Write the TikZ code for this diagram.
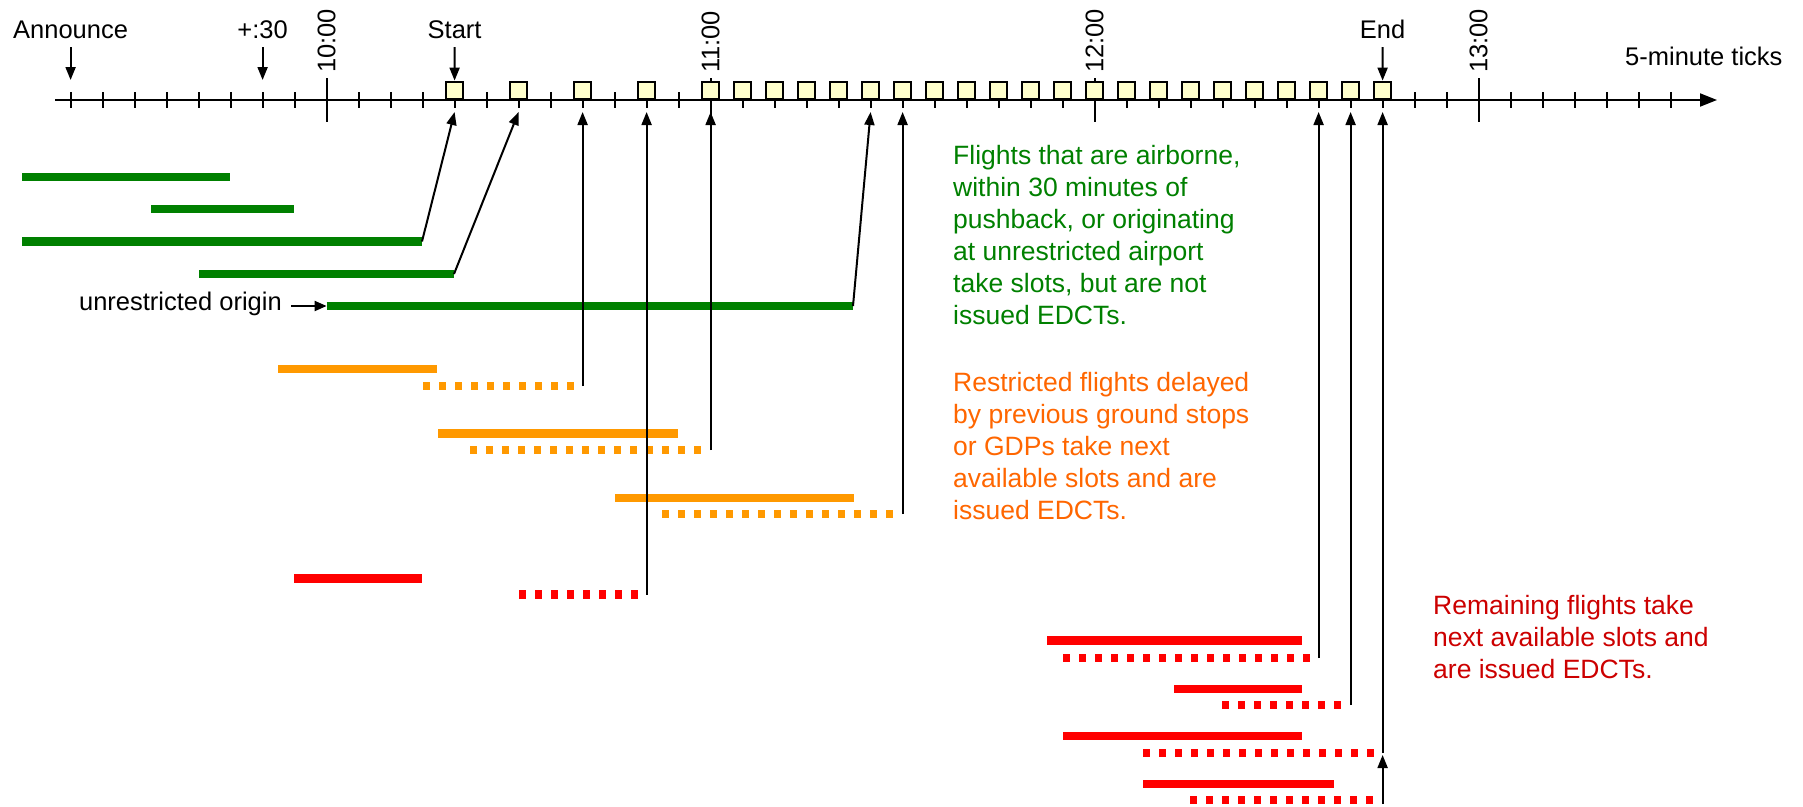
\documentclass[tikz,border=0pt]{standalone}
\usepackage{fontspec}
\setmainfont{Liberation Sans}
\usetikzlibrary{arrows.meta}
\definecolor{fgreen}{RGB}{0,128,0}
\definecolor{forange}{RGB}{255,153,0}
\definecolor{torange}{RGB}{255,102,0}
\definecolor{fred}{RGB}{255,0,0}
\definecolor{tred}{RGB}{204,0,0}
\definecolor{slotfill}{RGB}{255,255,204}
\tikzset{
  solidbar/.style={line width=8.5pt},
  dotbar/.style={line width=8.5pt, dash pattern=on 7pt off 9pt},
  conn/.style={line width=2pt, -{Triangle[length=13pt,width=10pt]}},
  tickline/.style={line width=2pt},
  axisline/.style={line width=2pt, -{Triangle[length=17pt,width=13pt]}},
  slotbox/.style={draw, line width=2.4pt, fill=slotfill, minimum size=17pt, inner sep=0pt, anchor=south},
  lab/.style={font=\fontsize{25.5}{30}\selectfont, inner sep=0pt},
  para/.style={font=\fontsize{26.5}{32}\selectfont, inner sep=0pt, align=left, anchor=north west},
}
\begin{document}
\begin{tikzpicture}[x=1pt,y=-1pt]
\useasboundingbox (0,0) rectangle (1803,806);
% axis
\coordinate (axs) at (55,100);
\coordinate (axe) at (1717,100);
\draw[axisline] (axs) -- (axe);
\foreach \m in {-40,-35,...,210} {
  \pgfmathsetmacro\xx{326.6+6.4*\m}
  \draw[tickline] (\xx,92) -- (\xx,108);
}
\foreach \m/\lab in {0/10:00,60/11:00,120/12:00,180/13:00} {
  \pgfmathsetmacro\xx{326.6+6.4*\m}
  \draw[tickline] (\xx,78) -- (\xx,122);
  \node[lab, rotate=90, anchor=west] (h\m) at (\xx,73) {\lab};
}
% slots
\foreach \m in {20,30,40,50,60,65,...,165} {
  \pgfmathsetmacro\xx{326.6+6.4*\m}
  \node[slotbox] (s\m) at (\xx,100) {};
  \coordinate (a\m) at (\xx,112);
}
\coordinate (a85) at ({326.6+6.4*85},112);
% top labels
\node[lab, anchor=base] (ann) at (70.6,38) {Announce};
\node[lab, anchor=base] (p30) at (262.6,38) {+:30};
\node[lab, anchor=base] (st) at (454.6,38) {Start};
\node[lab, anchor=base] (en) at (1382.6,38) {End};
\node[lab, anchor=base west] (tk) at (1625,65) {5-minute ticks};
\coordinate (annt) at (70.6,80);
\coordinate (p30t) at (262.6,80);
\draw[conn] (ann.south |- 0,47) -- (annt);
\draw[conn] (p30.south |- 0,47) -- (p30t);
\draw[conn] (st.south |- 0,47) -- (s20.north);
\draw[conn] (en.south |- 0,47) -- (s165.north);
% green flights
\begin{scope}[fgreen]
\draw[solidbar] (22,177) coordinate (g1a) -- (230,177) coordinate (g1b);
\draw[solidbar] (151,209) coordinate (g2a) -- (294,209) coordinate (g2b);
\draw[solidbar] (22,241.5) coordinate (g3a) -- (422,241.5) coordinate (g3b);
\draw[solidbar] (199,274) coordinate (g4a) -- (454,274) coordinate (g4b);
\draw[solidbar] (326.6,306) coordinate (g5a) -- (853,306) coordinate (g5b);
\end{scope}
\node[lab, anchor=east] (uo) at (282,304) {unrestricted origin};
\coordinate (uos) at (291,306);
\draw[line width=2pt, -{Triangle[length=12pt,width=10pt]}] (uos) -- (g5a);
% orange flights
\begin{scope}[forange]
\draw[solidbar] (278,369) -- (437,369);
\draw[dotbar] (423,386) -- (575,386);
\draw[solidbar] (438,433.5) -- (678,433.5);
\draw[dotbar] (470,450) -- (704,450);
\draw[solidbar] (615,498) -- (854,498);
\draw[dotbar] (662,514) -- (895,514);
\end{scope}
% red flights
\begin{scope}[fred]
\draw[solidbar] (294,578.5) -- (422,578.5);
\draw[dotbar] (519,594.5) -- (639,594.5);
\draw[solidbar] (1047,640.5) -- (1302,640.5);
\draw[dotbar] (1063,658) -- (1311,658);
\draw[solidbar] (1174,689) -- (1302,689);
\draw[dotbar] (1222,705) -- (1343,705);
\draw[solidbar] (1063,736) -- (1302,736);
\draw[dotbar] (1143,753) -- (1375,753);
\draw[solidbar] (1143,784) -- (1334,784);
\draw[dotbar] (1190,800) -- (1375,800);
\end{scope}
% connectors
\coordinate (o1e) at ({326.6+6.4*40},386);
\coordinate (o2e) at ({326.6+6.4*60},450);
\coordinate (o3e) at ({326.6+6.4*90},514);
\coordinate (r0e) at ({326.6+6.4*50},594.5);
\coordinate (r1e) at ({326.6+6.4*155},658);
\coordinate (r2e) at ({326.6+6.4*160},705);
\coordinate (r3e) at ({326.6+6.4*165},753);
\coordinate (r4e) at ({326.6+6.4*165},804);
\coordinate (r4t) at ({326.6+6.4*165},755);
\draw[conn] (g3b) -- (a20);
\draw[conn] (g4b) -- (a30);
\draw[conn] (g5b) -- (a85);
\draw[conn] (o1e) -- (a40);
\draw[conn] (o2e) -- (a60);
\draw[conn] (o3e) -- (a90);
\draw[conn] (r0e) -- (a50);
\draw[conn] (r1e) -- (a155);
\draw[conn] (r2e) -- (a160);
\draw[conn] (r3e) -- (a165);
\draw[conn] (r4e) -- (r4t);
% paragraphs
\node[para, text=fgreen] (gt) at (953,145) {Flights that are airborne,\\within 30 minutes of\\pushback, or originating\\at unrestricted airport\\take slots, but are not\\issued EDCTs.};
\node[para, text=torange] (ot) at (953,372) {Restricted flights delayed\\by previous ground stops\\or GDPs take next\\available slots and are\\issued EDCTs.};
\node[para, text=tred] (rt) at (1433,595) {Remaining flights take\\next available slots and\\are issued EDCTs.};
\end{tikzpicture}
\end{document}
